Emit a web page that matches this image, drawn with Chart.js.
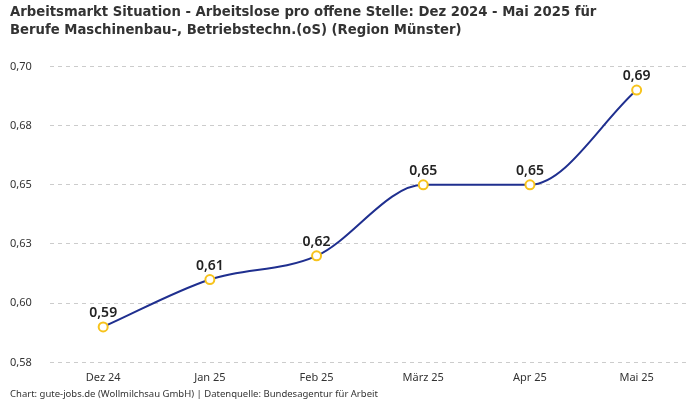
<!DOCTYPE html>
<html>
<head>
<meta charset="utf-8">
<script src="https://cdn.jsdelivr.net/npm/chart.js@4/dist/chart.umd.min.js"></script>
<style>
  html, body { margin: 0; padding: 0; background: #fff; }
  #wrap { width: 700px; height: 400px; }
</style>
</head>
<body>
<div id="wrap"><canvas id="chart"></canvas></div>
<script>
// Daten
const months = ["Dez 24", "Jan 25", "Feb 25", "März 25", "Apr 25", "Mai 25"];
const ratio = [0.59, 0.61, 0.62, 0.65, 0.65, 0.69];
const titleLines = [
    "Arbeitsmarkt Situation - Arbeitslose pro offene Stelle: Dez 2024 - Mai 2025 für",
    "Berufe Maschinenbau-, Betriebstechn.(oS) (Region Münster)"
];
const sourceText = "Chart: gute-jobs.de (Wollmilchsau GmbH) | Datenquelle: Bundesagentur für Arbeit";

// Zahl im deutschen Format
function fmt(v) {
    const r = Math.round(v * 100 + 1e-6) / 100;
    return r.toFixed(2).replace(".", ",");
}

// Werte über den Punkten
const valueLabels = {
    id: "valueLabels",
    afterDatasetsDraw(chart) {
        const ctx = chart.ctx;
        const meta = chart.getDatasetMeta(0);
        ctx.save();
        ctx.font = "600 14px 'Noto Sans'";
        ctx.fillStyle = "#222";
        ctx.textAlign = "center";
        ctx.textBaseline = "bottom";
        meta.data.forEach((pt, i) => {
            ctx.fillText(fmt(chart.data.datasets[0].data[i]), pt.x, pt.y - 7);
        });
        ctx.restore();
    }
};

new Chart(document.getElementById("chart"), {
    type: "line",
    data: {
        labels: months,
        datasets: [{
            data: ratio,
            borderColor: "#1f2f8f",
            borderWidth: 2,
            cubicInterpolationMode: "monotone",
            pointRadius: 4.5,
            pointHoverRadius: 4.5,
            pointBorderWidth: 2,
            pointBackgroundColor: "#fff",
            pointBorderColor: "#f7c31c",
            clip: false
        }]
    },
    options: {
        responsive: true,
        maintainAspectRatio: false,
        animation: false,
        layout: { padding: { left: 10, right: 10, top: 0, bottom: 0 } },
        plugins: {
            legend: { display: false },
            tooltip: { enabled: false },
            title: {
                display: true,
                text: titleLines,
                align: "start",
                color: "#333",
                font: { family: "'DejaVu Sans Condensed', sans-serif", size: 14.7, weight: "bold", lineHeight: 1.17 },
                padding: { top: 4, bottom: 28 }
            },
            subtitle: {
                display: true,
                position: "bottom",
                text: sourceText,
                align: "start",
                color: "#333",
                font: { family: "'Noto Sans'", size: 9.5 },
                padding: { top: 3, bottom: 0 }
            }
        },
        scales: {
            x: {
                offset: true,
                grid: { display: false },
                border: { display: false },
                ticks: { color: "#333", font: { family: "'Noto Sans'", size: 11 }, padding: 1 }
            },
            y: {
                min: 0.575,
                max: 0.7,
                grid: { color: "#cccccc", drawTicks: false },
                border: { display: false, dash: [4, 4] },
                ticks: {
                    stepSize: 0.025,
                    color: "#333",
                    font: { family: "'Noto Sans'", size: 11 },
                    padding: 9,
                    crossAlign: "far",
                    callback: v => fmt(v)
                }
            }
        }
    },
    plugins: [valueLabels]
});
</script>
</body>
</html>
